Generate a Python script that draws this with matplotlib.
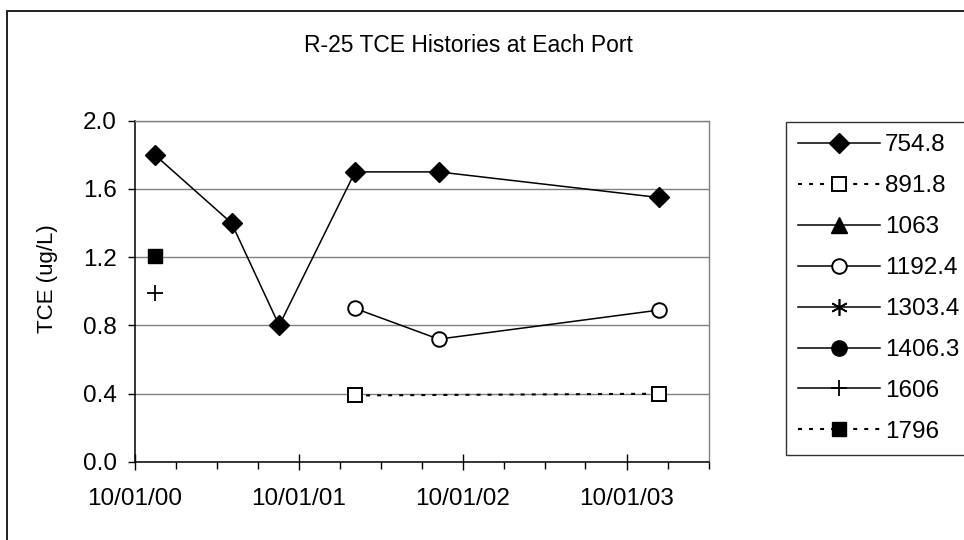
import matplotlib
matplotlib.use("Agg")
import matplotlib.pyplot as plt
import matplotlib.dates as mdates
from matplotlib.patches import Rectangle
import numpy as np

plt.rcParams['font.family'] = ['Liberation Sans', 'DejaVu Sans']

# Sample results per port depth
ports = ["754.8", "891.8", "1063", "1192.4", "1303.4", "1406.3", "1606", "1796"]

dates_754_8 = ["2000-11-14", "2001-05-04", "2001-08-18", "2002-02-03", "2002-08-08", "2003-12-11"]
tce_754_8 = [1.80, 1.40, 0.80, 1.70, 1.70, 1.55]

dates_891_8 = ["2002-02-03", "2003-12-11"]
tce_891_8 = [0.39, 0.40]

dates_1063 = []
tce_1063 = []

dates_1192_4 = ["2002-02-03", "2002-08-08", "2003-12-11"]
tce_1192_4 = [0.90, 0.72, 0.89]

dates_1303_4 = []
tce_1303_4 = []

dates_1406_3 = []
tce_1406_3 = []

dates_1606 = ["2000-11-14"]
tce_1606 = [0.99]

dates_1796 = ["2000-11-14"]
tce_1796 = [1.21]

y_ticks = [0.0, 0.4, 0.8, 1.2, 1.6, 2.0]

W, H = 964, 540
fig = plt.figure(figsize=(W / 100, H / 100), dpi=100)
fig.patch.set_facecolor("white")

# chart-area frame
fig.patches.append(Rectangle((7 / W, -0.1), 1.2, 1 - 10.5 / H + 0.1,
                             transform=fig.transFigure, fill=False,
                             edgecolor="#202020", linewidth=1.4))

ax = fig.add_axes([135 / W, 1 - 462 / H, (709 - 135) / W, (462 - 120.7) / H])

def d(lst):
    return np.array(lst, dtype="datetime64[D]")

solid = dict(color="black", linewidth=1.1, clip_on=False)
dotted = dict(color="black", linewidth=1.5, linestyle=(0, (1.9, 3.4)), clip_on=False)

series = [
    (dates_754_8, tce_754_8, dict(marker="D", markersize=10, markerfacecolor="black",
                                  markeredgecolor="black", **solid)),
    (dates_891_8, tce_891_8, dict(marker="s", markersize=10, markerfacecolor="white",
                                  markeredgecolor="black", markeredgewidth=1.4, **dotted)),
    (dates_1063, tce_1063, dict(marker="^", markersize=11, markerfacecolor="black",
                                markeredgecolor="black", **solid)),
    (dates_1192_4, tce_1192_4, dict(marker="o", markersize=10.5, markerfacecolor="white",
                                    markeredgecolor="black", markeredgewidth=1.4, **solid)),
    (dates_1303_4, tce_1303_4, dict(marker=(6, 2, 0), markersize=12,
                                    markeredgecolor="black", markeredgewidth=1.2, **solid)),
    (dates_1406_3, tce_1406_3, dict(marker="o", markersize=11, markerfacecolor="black",
                                    markeredgecolor="black", **solid)),
    (dates_1606, tce_1606, dict(marker="+", markersize=12, markeredgewidth=1.3, **solid)),
    (dates_1796, tce_1796, dict(marker="s", markersize=10.5, markerfacecolor="black",
                                markeredgecolor="black", **dotted)),
]

handles = []
for (dt, val, style), name in zip(series, ports):
    h, = ax.plot(d(dt), val, label=name, zorder=3, **style)
    handles.append(h)

ax.set_xlim(np.datetime64("2000-10-01"), np.datetime64("2004-04-01"))
ax.set_ylim(0, 2.0)
ax.set_yticks(y_ticks)
ax.yaxis.set_major_formatter(matplotlib.ticker.FormatStrFormatter("%.1f"))

ax.xaxis.set_major_locator(mdates.YearLocator(base=1, month=10, day=1))
ax.xaxis.set_minor_locator(mdates.MonthLocator(bymonth=[1, 4, 7, 10]))
ax.xaxis.set_major_formatter(mdates.DateFormatter("%m/%d/%y"))

ax.grid(axis="y", color="#808080", linewidth=1.0)
ax.set_axisbelow(True)

for s in ["top", "right"]:
    ax.spines[s].set_color("#808080")
    ax.spines[s].set_linewidth(1.0)
for s in ["left", "bottom"]:
    ax.spines[s].set_color("black")
    ax.spines[s].set_linewidth(1.1)

ax.tick_params(axis="y", which="major", direction="out", length=5, width=1.0,
               labelsize=17.5, pad=8)
ax.tick_params(axis="x", which="major", direction="inout", length=11, width=1.0,
               labelsize=17.5, pad=13)
ax.tick_params(axis="x", which="minor", direction="out", length=5, width=1.0)

ax.set_ylabel("TCE (ug/L)", fontsize=16)
ax.yaxis.set_label_coords(-0.134, 0.536)

fig.text(304 / W, 1 - 45 / H, "R-25 TCE Histories at Each Port",
         fontsize=16.5, ha="left", va="center")

leg = fig.legend(handles=handles, loc="upper left",
                 bbox_to_anchor=(786 / W, 1 - 122 / H), fontsize=17.5,
                 frameon=True, fancybox=False, shadow=False,
                 handlelength=3.37, handletextpad=0.2, labelspacing=0.78,
                 borderpad=0.5, borderaxespad=0, numpoints=1)
leg.get_frame().set_edgecolor("black")
leg.get_frame().set_linewidth(1.0)

fig.savefig("out.png", dpi=100, facecolor="white")
